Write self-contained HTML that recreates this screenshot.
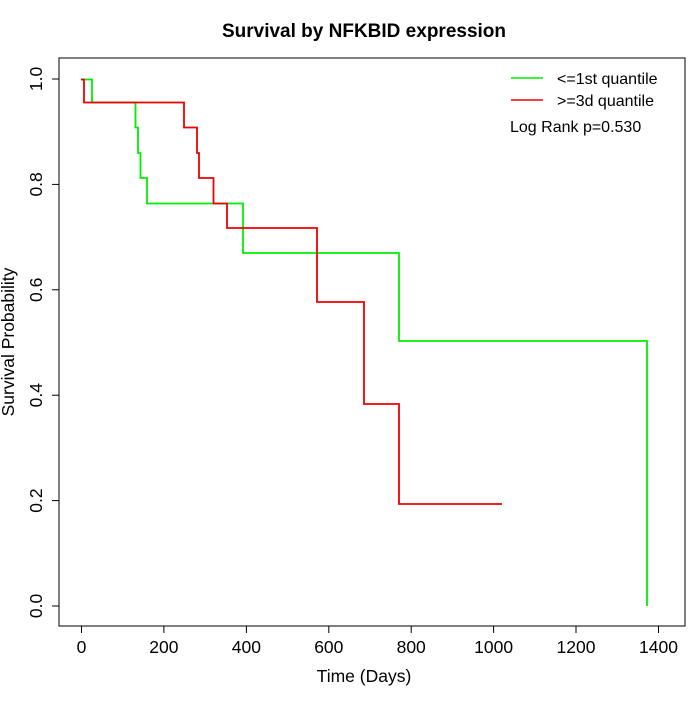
<!DOCTYPE html>
<html><head><style>body{margin:0;background:#fff}</style></head><body>
<svg width="700" height="700" xmlns="http://www.w3.org/2000/svg" font-family="Liberation Sans, sans-serif">
<rect width="700" height="700" fill="#fff"/>
<text x="364" y="37" font-size="19" font-weight="bold" text-anchor="middle">Survival by NFKBID expression</text>
<rect x="59" y="58" width="626" height="568" fill="none" stroke="#000" stroke-width="1"/>
<g stroke="#000" stroke-width="1">
<line x1="81.5" y1="626" x2="659" y2="626"/>
<line x1="81.5" y1="626" x2="81.5" y2="633"/><line x1="163.9" y1="626" x2="163.9" y2="633"/><line x1="246.4" y1="626" x2="246.4" y2="633"/><line x1="328.8" y1="626" x2="328.8" y2="633"/><line x1="411.2" y1="626" x2="411.2" y2="633"/><line x1="493.6" y1="626" x2="493.6" y2="633"/><line x1="576" y1="626" x2="576" y2="633"/><line x1="658.5" y1="626" x2="658.5" y2="633"/>
<line x1="59" y1="79" x2="59" y2="606"/>
<line x1="52" y1="606" x2="59" y2="606"/><line x1="52" y1="500.6" x2="59" y2="500.6"/><line x1="52" y1="395.2" x2="59" y2="395.2"/><line x1="52" y1="289.8" x2="59" y2="289.8"/><line x1="52" y1="184.4" x2="59" y2="184.4"/><line x1="52" y1="79" x2="59" y2="79"/>
</g>
<g font-size="17.5" text-anchor="middle">
<text x="81.5" y="653">0</text><text x="163.9" y="653">200</text><text x="246.4" y="653">400</text><text x="328.8" y="653">600</text><text x="411.2" y="653">800</text><text x="493.6" y="653">1000</text><text x="576" y="653">1200</text><text x="658.5" y="653">1400</text>
<text transform="translate(42,606) rotate(-90)">0.0</text>
<text transform="translate(42,500.6) rotate(-90)">0.2</text>
<text transform="translate(42,395.2) rotate(-90)">0.4</text>
<text transform="translate(42,289.8) rotate(-90)">0.6</text>
<text transform="translate(42,184.4) rotate(-90)">0.8</text>
<text transform="translate(42,79) rotate(-90)">1.0</text>
<text x="364" y="682">Time (Days)</text>
<text transform="translate(14,342) rotate(-90)">Survival Probability</text>
</g>
<polyline fill="none" stroke="#00ee00" stroke-width="1.8" points="81,79.5 92,79.5 92,102.5 135.5,102.5 135.5,127.5 138,127.5 138,153 140.5,153 140.5,178 147,178 147,203.5 243,203.5 243,253 399,253 399,341 647,341 647,606"/>
<polyline fill="none" stroke="#ee0000" stroke-width="1.8" points="81,79.5 84,79.5 84,102.5 184,102.5 184,127.5 197,127.5 197,153 199,153 199,178 213.5,178 213.5,203.5 227,203.5 227,228 317,228 317,302 364,302 364,404 399,404 399,504 502,504"/>
<line x1="511" y1="78" x2="543" y2="78" stroke="#00ee00" stroke-width="1.5"/>
<line x1="511" y1="100" x2="543" y2="100" stroke="#ee0000" stroke-width="1.5"/>
<g font-size="16">
<text x="557" y="84">&lt;=1st quantile</text>
<text x="557" y="106">&gt;=3d quantile</text>
<text x="510" y="132">Log Rank p=0.530</text>
</g>
</svg>
</body></html>
